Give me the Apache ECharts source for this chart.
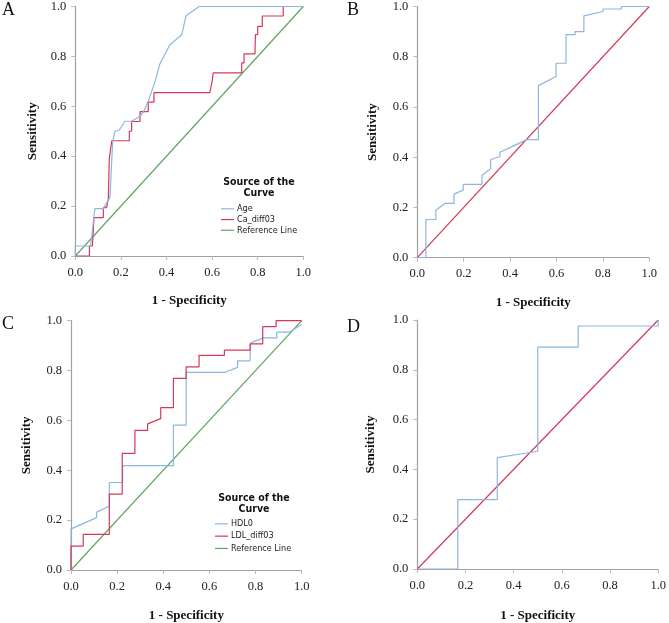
<!DOCTYPE html>
<html>
<head>
<meta charset="utf-8">
<style>
  html, body { margin: 0; padding: 0; background: #fff; }
  #chart { width: 669px; height: 623px; }
</style>
<script src="https://cdn.jsdelivr.net/npm/echarts@6/dist/echarts.min.js"></script>
</head>
<body>
<div id="chart"></div>
<script>
// tick values shared by every panel
const ticks = [0, 0.2, 0.4, 0.6, 0.8, 1.0];

// Panel A: Age and Ca_diff03
const ageX = [0, 0, 0.067, 0.086, 0.123, 0.152, 0.164, 0.174, 0.193, 0.218, 0.247, 0.284, 0.30, 0.32, 0.35, 0.371, 0.415, 0.467, 0.486, 0.544, 1];
const ageY = [0, 0.04, 0.04, 0.19, 0.19, 0.235, 0.46, 0.50, 0.505, 0.54, 0.54, 0.56, 0.58, 0.62, 0.70, 0.77, 0.847, 0.887, 0.964, 1, 1];
const caX = [0, 0.062, 0.062, 0.075, 0.082, 0.123, 0.123, 0.137, 0.145, 0.149, 0.16, 0.237, 0.237, 0.247, 0.247, 0.284, 0.284, 0.32, 0.32, 0.345, 0.345, 0.59, 0.60, 0.605, 0.73, 0.73, 0.74, 0.74, 0.788, 0.79, 0.80, 0.80, 0.82, 0.82, 0.912, 0.912, 1];
const caY = [0, 0, 0.04, 0.04, 0.154, 0.154, 0.194, 0.194, 0.23, 0.389, 0.462, 0.462, 0.50, 0.50, 0.539, 0.539, 0.579, 0.579, 0.617, 0.617, 0.655, 0.655, 0.70, 0.734, 0.734, 0.774, 0.774, 0.81, 0.81, 0.887, 0.887, 0.92, 0.92, 0.962, 0.962, 1, 1];

// Panel B
const bX = [0, 0.037, 0.037, 0.08, 0.08, 0.119, 0.158, 0.158, 0.198, 0.198, 0.279, 0.279, 0.316, 0.316, 0.356, 0.356, 0.42, 0.471, 0.522, 0.522, 0.598, 0.598, 0.641, 0.641, 0.68, 0.68, 0.718, 0.718, 0.80, 0.80, 0.88, 0.88, 1];
const bY = [0, 0, 0.152, 0.152, 0.189, 0.216, 0.216, 0.253, 0.269, 0.292, 0.292, 0.328, 0.354, 0.39, 0.403, 0.42, 0.447, 0.47, 0.47, 0.685, 0.721, 0.774, 0.774, 0.888, 0.888, 0.90, 0.90, 0.963, 0.98, 0.99, 0.99, 1, 1];

// Panel C: HDL0 and LDL_diff03
const hdlX = [0, 0, 0.111, 0.111, 0.166, 0.166, 0.224, 0.224, 0.444, 0.444, 0.499, 0.499, 0.668, 0.722, 0.722, 0.776, 0.779, 0.834, 0.892, 0.892, 0.946, 1];
const hdlY = [0, 0.165, 0.21, 0.232, 0.256, 0.351, 0.351, 0.419, 0.419, 0.581, 0.581, 0.793, 0.793, 0.813, 0.839, 0.839, 0.911, 0.931, 0.931, 0.954, 0.954, 0.985];
const ldlX = [0, 0, 0.053, 0.053, 0.166, 0.166, 0.222, 0.222, 0.277, 0.277, 0.332, 0.332, 0.389, 0.389, 0.444, 0.444, 0.499, 0.499, 0.555, 0.555, 0.665, 0.665, 0.776, 0.776, 0.831, 0.831, 0.889, 0.889, 1];
const ldlY = [0, 0.096, 0.096, 0.143, 0.143, 0.304, 0.304, 0.468, 0.468, 0.56, 0.56, 0.586, 0.607, 0.651, 0.651, 0.769, 0.769, 0.815, 0.815, 0.861, 0.861, 0.882, 0.882, 0.907, 0.907, 0.976, 0.976, 1, 1];

// Panel D
const dX = [0, 0.168, 0.168, 0.332, 0.332, 0.5, 0.5, 0.668, 0.668, 1, 1];
const dY = [0, 0, 0.279, 0.279, 0.447, 0.473, 0.891, 0.891, 0.976, 0.976, 1];

// diagonal reference
const refX = [0, 1];
const refY = [0, 1];

const BLUE = '#8db6e0';
const RED = '#d2395a';
const GREEN = '#62a462';

const zip = (xs, ys) => xs.map((x, i) => [x, ys[i]]);

const grids = [
  { left: 75.3, top: 5, width: 228, height: 251 },
  { left: 417.3, top: 5.7, width: 232, height: 252 },
  { left: 71, top: 320.7, width: 230.7, height: 254.3 },
  { left: 417.3, top: 320, width: 243.7, height: 254.3 }
];
const yNameGaps = [36, 38, 38, 40];
const xNameGaps = [38, 38, 39, 40];

const serif = '"Liberation Serif", "DejaVu Serif", serif';
const sans = '"DejaVu Sans Condensed", "Liberation Sans Narrow", "Liberation Sans", sans-serif';

function xAxis(i) {
  return {
    gridIndex: i, type: 'value', min: 0, max: 1, interval: 0.2,
    name: '1 - Specificity', nameLocation: 'middle', nameGap: xNameGaps[i],
    nameTextStyle: { fontFamily: serif, fontWeight: 'bold', fontSize: 13, color: '#111' },
    axisLine: { show: true, lineStyle: { color: '#a0a0a0', width: 1.2 } },
    axisTick: { show: true, length: 4, lineStyle: { color: '#bbb' } },
    axisLabel: { fontFamily: serif, fontSize: 12.5, color: '#222', margin: 10,
      formatter: v => v.toFixed(1) },
    splitLine: { show: false }
  };
}
function yAxis(i) {
  return {
    gridIndex: i, type: 'value', min: 0, max: 1, interval: 0.2,
    name: 'Sensitivity', nameLocation: 'middle', nameGap: yNameGaps[i],
    nameTextStyle: { fontFamily: serif, fontWeight: 'bold', fontSize: 13, color: '#111' },
    axisLine: { show: true, lineStyle: { color: '#a0a0a0', width: 1.2 } },
    axisTick: { show: true, length: 4, lineStyle: { color: '#bbb' } },
    axisLabel: { fontFamily: serif, fontSize: 12.5, color: '#222', margin: 9,
      formatter: v => v.toFixed(1) },
    splitLine: { show: false }
  };
}

function line(name, i, xs, ys, color) {
  return {
    name, type: 'line', xAxisIndex: i, yAxisIndex: i,
    data: zip(xs, ys), symbol: 'none', showSymbol: false,
    lineStyle: { color, width: 1.2 }, itemStyle: { color },
    silent: true, z: 3
  };
}

function legendAt(left, top, names, lineHeight) {
  return {
    orient: 'vertical', left, top, padding: 0, itemGap: 0,
    icon: 'rect', itemWidth: 13, itemHeight: 1.2,
    data: names, selectedMode: false,
    textStyle: { fontFamily: sans, fontSize: 9, color: '#222', lineHeight, padding: [0, 0, 0, -2] }
  };
}

function panelLetter(text, x, y) {
  return { type: 'text', left: x, top: y,
    style: { text, fontFamily: serif, fontSize: 18, fill: '#111' } };
}
function legendTitle(cx, y) {
  return { type: 'text', x: cx, y,
    style: { text: 'Source of the\nCurve', fontFamily: sans, fontWeight: 'bold',
      fontSize: 10.5, lineHeight: 11, fill: '#111', align: 'center', verticalAlign: 'top' } };
}

const chart = echarts.init(document.getElementById('chart'));
chart.setOption({
  animation: false,
  grid: grids,
  xAxis: [0, 1, 2, 3].map(xAxis),
  yAxis: [0, 1, 2, 3].map(yAxis),
  legend: [
    legendAt(221, 203.5, ['Age', 'Ca_diff03', 'Reference Line'], 10.7),
    legendAt(215, 517.7, ['HDL0', 'LDL_diff03', 'Reference Line'], 12.3)
  ],
  graphic: [
    panelLetter('A', 2, 1),
    panelLetter('B', 347, 1),
    panelLetter('C', 2, 315),
    panelLetter('D', 347, 318),
    legendTitle(259, 176.5),
    legendTitle(254, 493)
  ],
  series: [
    line('Reference Line', 0, refX, refY, GREEN),
    line('Ca_diff03', 0, caX, caY, RED),
    line('Age', 0, ageX, ageY, BLUE),
    line('Diagonal B', 1, refX, refY, RED),
    line('Curve B', 1, bX, bY, BLUE),
    line('Reference Line', 2, refX, refY, GREEN),
    line('HDL0', 2, hdlX, hdlY, BLUE),
    line('LDL_diff03', 2, ldlX, ldlY, RED),
    line('Diagonal D', 3, refX, refY, RED),
    line('Curve D', 3, dX, dY, BLUE)
  ]
});
</script>
</body>
</html>
